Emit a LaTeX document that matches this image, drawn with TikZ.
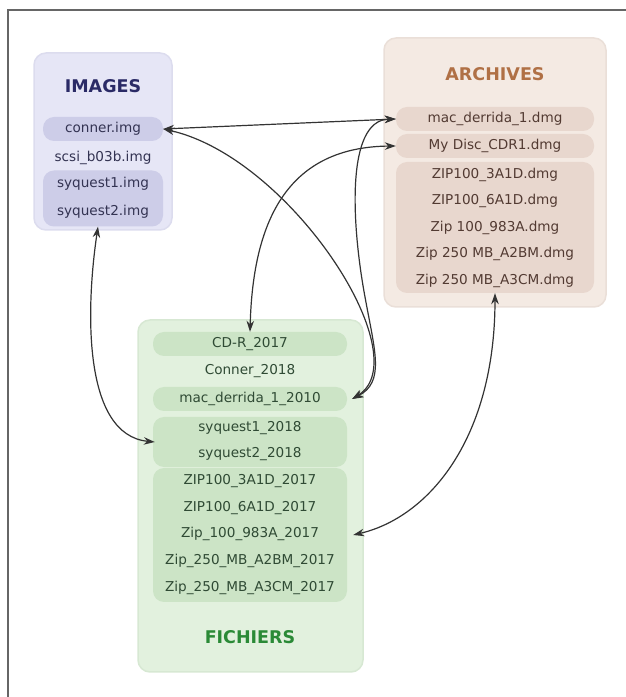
\documentclass[tikz,border=0pt]{standalone}
\usepackage{fontspec}
\setmainfont{DejaVu Sans}
\usetikzlibrary{arrows.meta}
\definecolor{imgbg}{HTML}{E6E6F6}
\definecolor{imgedge}{HTML}{DCDCEE}
\definecolor{imgpill}{HTML}{CDCDE8}
\definecolor{imgtitle}{HTML}{2A2A66}
\definecolor{imgtext}{HTML}{333352}
\definecolor{arcbg}{HTML}{F4EAE3}
\definecolor{arcedge}{HTML}{EADFD8}
\definecolor{arcpill}{HTML}{E8D7CE}
\definecolor{arctitle}{HTML}{B07045}
\definecolor{arctext}{HTML}{523A32}
\definecolor{fibg}{HTML}{E2F1DE}
\definecolor{fiedge}{HTML}{D7E8D3}
\definecolor{fipill}{HTML}{CCE4C6}
\definecolor{fititle}{HTML}{2A8A36}
\definecolor{fitext}{HTML}{2F4A34}
\definecolor{arrowc}{HTML}{333333}
\tikzset{
  outerbox/.style={rectangle, rounded corners=12pt, inner sep=0pt, line width=1.5pt},
  grp/.style={rectangle, rounded corners=11pt, inner sep=0pt},
  itemtxt/.style={font=\fontsize{13.6}{15}\selectfont, text height=9.8pt, text depth=3pt, inner sep=0pt},
  pill/.style={rectangle, rounded corners=11pt, minimum height=24pt, inner sep=0pt, itemtxt},
  titletxt/.style={font=\bfseries\fontsize{17.5}{20}\selectfont, inner sep=0pt},
  conn/.style={draw=arrowc, line width=1.2pt, {Stealth[length=11pt,width=7.5pt]}-{Stealth[length=11pt,width=7.5pt]}}
}
\begin{document}
\begin{tikzpicture}[x=1pt,y=1pt]
\useasboundingbox (0,0) rectangle (626,697);
\draw[gray!80!black, line width=1.5pt] (8,0) -- (8,687) -- (626,687);

% IMAGES
\node[outerbox, fill=imgbg, draw=imgedge, minimum width=138pt, minimum height=177pt] (images) at (103,555.5) {};
\node[titletxt, text=imgtitle] (imgtitle) at (103,611) {IMAGES};
\node[pill, fill=imgpill, minimum width=120pt, text=imgtext] (iconner) at (103,568) {conner.img};
\node[itemtxt, text=imgtext] (iscsi) at (103,539) {scsi\_b03b.img};
\node[grp, fill=imgpill, minimum width=120pt, minimum height=56pt] (isq) at (103,498.5) {};
\node[itemtxt, text=imgtext] (isq1) at (103,513) {syquest1.img};
\node[itemtxt, text=imgtext] (isq2) at (103,485) {syquest2.img};

% ARCHIVES
\node[outerbox, fill=arcbg, draw=arcedge, minimum width=222pt, minimum height=269pt] (archives) at (495,524.5) {};
\node[titletxt, text=arctitle] (arctitle) at (495,623) {ARCHIVES};
\node[pill, fill=arcpill, minimum width=198pt, text=arctext] (amac) at (495,578) {mac\_derrida\_1.dmg};
\node[pill, fill=arcpill, minimum width=198pt, text=arctext] (adisc) at (495,551) {My Disc\_CDR1.dmg};
\node[grp, fill=arcpill, minimum width=198pt, minimum height=131pt] (azip) at (495,469.5) {};
\node[itemtxt, text=arctext] (az1) at (495,522) {ZIP100\_3A1D.dmg};
\node[itemtxt, text=arctext] (az2) at (495,495.5) {ZIP100\_6A1D.dmg};
\node[itemtxt, text=arctext] (az3) at (495,469) {Zip 100\_983A.dmg};
\node[itemtxt, text=arctext] (az4) at (495,442.5) {Zip 250 MB\_A2BM.dmg};
\node[itemtxt, text=arctext] (az5) at (495,416) {Zip 250 MB\_A3CM.dmg};

% FICHIERS
\node[outerbox, fill=fibg, draw=fiedge, minimum width=225pt, minimum height=352pt] (fichiers) at (250.5,201) {};
\node[pill, fill=fipill, minimum width=194pt, text=fitext] (fcdr) at (250,353) {CD-R\_2017};
\node[itemtxt, text=fitext] (fconner) at (250,326) {Conner\_2018};
\node[pill, fill=fipill, minimum width=194pt, text=fitext] (fmac) at (250,298) {mac\_derrida\_1\_2010};
\node[grp, fill=fipill, minimum width=194pt, minimum height=50pt] (fsq) at (250,255) {};
\node[itemtxt, text=fitext] (fsq1) at (250,268.5) {syquest1\_2018};
\node[itemtxt, text=fitext] (fsq2) at (250,242.5) {syquest2\_2018};
\node[grp, fill=fipill, minimum width=194pt, minimum height=134pt] (fzip) at (250,162) {};
\node[itemtxt, text=fitext] (fz1) at (250,215.5) {ZIP100\_3A1D\_2017};
\node[itemtxt, text=fitext] (fz2) at (250,189) {ZIP100\_6A1D\_2017};
\node[itemtxt, text=fitext] (fz3) at (250,162.5) {Zip\_100\_983A\_2017};
\node[itemtxt, text=fitext] (fz4) at (250,136) {Zip\_250\_MB\_A2BM\_2017};
\node[itemtxt, text=fitext] (fz5) at (250,109) {Zip\_250\_MB\_A3CM\_2017};
\node[titletxt, text=fititle] (fititle) at (250,60) {FICHIERS};

% connectors
\draw[conn] (iconner.east) -- (amac.west);
\draw[conn] (iconner.east) .. controls (290,540) and (420,340) .. ([xshift=5pt]fmac.east);
\draw[conn] (amac.west) .. controls (345,577) and (352,470) .. (365,400) .. controls (375,345) and (385,315) .. ([xshift=5pt]fmac.east);
\draw[conn] (fcdr.north) .. controls (253,480) and (290,550) .. (adisc.west);
\draw[conn] ([xshift=-5pt]isq.south) .. controls (86,390) and (82,262) .. ([xshift=2pt]fsq.west);
\draw[conn] (azip.south) .. controls (495,260) and (430,180) .. ([xshift=6pt]fzip.east);
\end{tikzpicture}
\end{document}
